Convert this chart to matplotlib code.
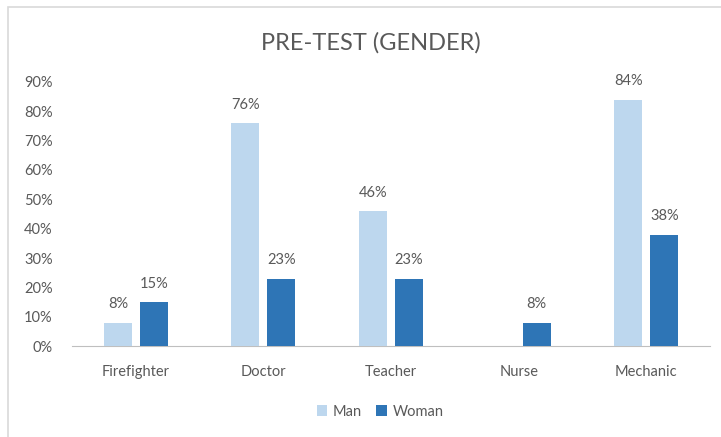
import numpy as np
import matplotlib.pyplot as plt
from matplotlib.patches import Rectangle

# === DATA ===
categories = ["Firefighter", "Doctor", "Teacher", "Nurse", "Mechanic"]
man = [8, 76, 46, 0, 84]
woman = [15, 23, 23, 8, 38]
series_names = ["Man", "Woman"]
colors = ["#BDD7EE", "#2E75B6"]

plt.rcParams['font.family'] = ['Lato', 'DejaVu Sans']
text_color = "#595959"

fig = plt.figure(figsize=(7.21, 4.37), dpi=100)
ax = fig.add_axes([0.0999, 0.2082, 0.885, 0.6042])

# chart border (light gray frame)
fig.patches.append(Rectangle((8 / 721, -0.1), 1.1, 1.1 - 7 / 437, transform=fig.transFigure,
                             fill=False, edgecolor="#D9D9D9", linewidth=1.2))

x = np.arange(len(categories))
w = 0.22
off = 0.141
for vals, name, col, sign in [(man, series_names[0], colors[0], -1),
                              (woman, series_names[1], colors[1], 1)]:
    bars = ax.bar(x + sign * off, vals, width=w, color=col, label=name, zorder=3)
    for b, v in zip(bars, vals):
        if v == 0:
            continue
        ax.annotate(f"{v}%", (b.get_x() + b.get_width() / 2, v), xytext=(0, 8),
                    textcoords="offset points", ha="center", va="bottom",
                    fontsize=10.5, color=text_color)

ax.set_xlim(-0.5, len(categories) - 0.5)
ax.set_ylim(0, 90)
ax.set_yticks(range(0, 91, 10))
ax.set_yticklabels([f"{t}%" for t in range(0, 91, 10)])
ax.set_xticks(x)
ax.set_xticklabels(categories)
ax.tick_params(length=0, labelsize=10.5, colors=text_color)
ax.tick_params(axis="x", pad=14)
ax.tick_params(axis="y", pad=14)
for s in ["top", "right", "left"]:
    ax.spines[s].set_visible(False)
ax.spines["bottom"].set_color("#BFBFBF")

fig.text(0.515, 0.903, "PRE-TEST (GENDER)", ha="center", va="center",
         fontsize=17, color=text_color)

fig.legend(loc="center", bbox_to_anchor=(0.527, 0.058), ncol=2, frameon=False,
           fontsize=10.5, handlelength=0.7, handleheight=0.7, handletextpad=0.4,
           columnspacing=1.0, labelcolor=text_color)

fig.savefig("out.png", dpi=100)
